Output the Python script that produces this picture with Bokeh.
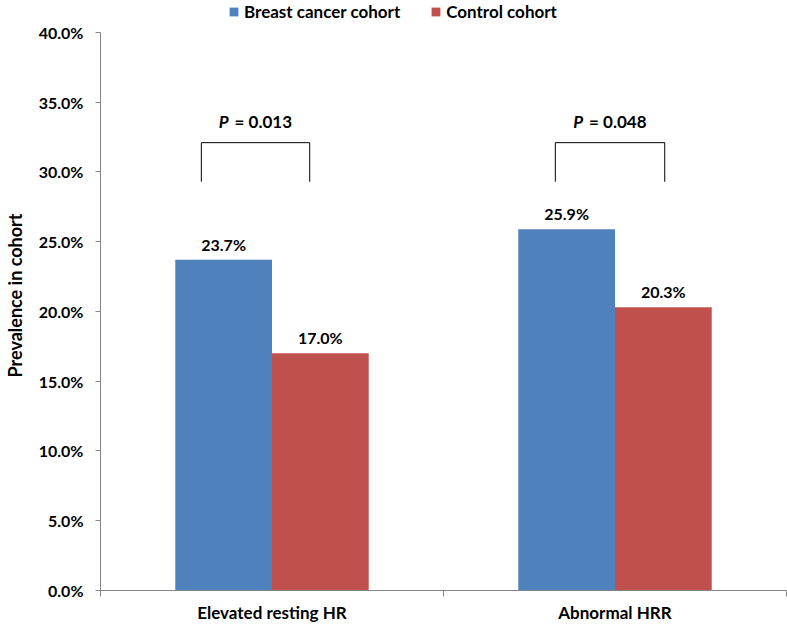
from bokeh.plotting import figure
from bokeh.models import (ColumnDataSource, Range1d, FixedTicker, NumeralTickFormatter,
                          Legend, LegendItem, LabelSet, Label)
from bokeh.core.properties import value
from bokeh.embed import file_html
from bokeh.resources import INLINE

categories = ["Elevated resting HR", "Abnormal HRR"]
series_names = ["Breast cancer cohort", "Control cohort"]
breast = [23.7, 25.9]
control = [17.0, 20.3]
p_values = ["0.013", "0.048"]
y_ticks = [0, 5, 10, 15, 20, 25, 30, 35, 40]

FONT = "Lato"
BLUE = "#4F81BD"
RED = "#C0504D"
AXIS_GRAY = "#868686"

BAR_W = 0.282
centers = [i + 0.5 for i in range(len(categories))]
Y_TOP = y_ticks[-1] / 100 * 591 / 559   # head room above the last tick for the legend

p = figure(width=787, height=625, output_backend="svg", toolbar_location=None,
           x_range=Range1d(0, len(categories)), y_range=Range1d(0, Y_TOP),
           min_border_left=98, min_border_right=1, min_border_top=0, min_border_bottom=34)
p.outline_line_color = None
p.xgrid.grid_line_color = None
p.ygrid.grid_line_color = None
p.background_fill_color = "white"

src_b = ColumnDataSource(dict(x=[c - BAR_W / 2 for c in centers], top=[v / 100 for v in breast],
                              lab=[f"{v:.1f}%" for v in breast]))
src_c = ColumnDataSource(dict(x=[c + BAR_W / 2 for c in centers], top=[v / 100 for v in control],
                              lab=[f"{v:.1f}%" for v in control]))
rb = p.vbar(x="x", top="top", width=BAR_W, source=src_b, fill_color=BLUE, line_color=None)
rc = p.vbar(x="x", top="top", width=BAR_W, source=src_c, fill_color=RED, line_color=None)

for src in (src_b, src_c):
    p.add_layout(LabelSet(x="x", y="top", text="lab", source=src, text_align="center",
                          text_baseline="bottom", y_offset=6, text_font=value(FONT),
                          text_font_style="bold", text_font_size="16px", text_color="black"))

# significance brackets
left_off = [-0.206, -0.174]
right_off = [0.110, 0.145]
br_top, br_bot = 0.321, 0.293
xs, ys = [], []
for i, c in enumerate(centers):
    xl, xr = c + left_off[i], c + right_off[i]
    xs.append([xl, xl, xr, xr])
    ys.append([br_bot, br_top, br_top, br_bot])
p.multi_line(xs=xs, ys=ys, line_color="black", line_width=1)
for i, c in enumerate(centers):
    mid = c + (left_off[i] + right_off[i]) / 2
    p.add_layout(Label(x=mid, y=0.336, text="P", text_align="right", text_baseline="middle",
                       x_offset=-27, text_font=FONT, text_font_style="bold italic",
                       text_font_size="17px", text_color="black"))
    p.add_layout(Label(x=mid, y=0.336, text="= " + p_values[i], text_align="left",
                       text_baseline="middle", x_offset=-21, text_font=FONT,
                       text_font_style="bold", text_font_size="17px", text_color="black"))

# axes
p.xaxis.ticker = FixedTicker(ticks=centers, minor_ticks=[float(i) for i in range(len(categories) + 1)])
p.xaxis.major_label_overrides = {c: categories[i] for i, c in enumerate(centers)}
p.xaxis.major_tick_line_color = None
p.xaxis.minor_tick_line_color = AXIS_GRAY
p.xaxis.minor_tick_out = 6
p.xaxis.minor_tick_in = 0
p.xaxis.axis_line_color = AXIS_GRAY
p.xaxis.major_label_text_font = FONT
p.xaxis.major_label_text_font_style = "bold"
p.xaxis.major_label_text_font_size = "17px"
p.xaxis.major_label_text_color = "black"
p.xaxis.major_label_standoff = 5

p.yaxis.ticker = FixedTicker(ticks=[t / 100 for t in y_ticks], minor_ticks=[])
p.yaxis.bounds = (y_ticks[0] / 100, y_ticks[-1] / 100)
p.yaxis.formatter = NumeralTickFormatter(format="0.0%")
p.yaxis.axis_line_color = AXIS_GRAY
p.yaxis.major_tick_line_color = AXIS_GRAY
p.yaxis.major_tick_out = 5
p.yaxis.major_tick_in = 0
p.yaxis.minor_tick_line_color = None
p.yaxis.major_label_text_font = FONT
p.yaxis.major_label_text_font_style = "bold"
p.yaxis.major_label_text_font_size = "16px"
p.yaxis.major_label_text_color = "black"
p.yaxis.major_label_standoff = 12
p.yaxis.axis_label = "Prevalence in cohort"
p.yaxis.axis_label_text_font = FONT
p.yaxis.axis_label_text_font_style = "bold"
p.yaxis.axis_label_text_font_size = "18px"
p.yaxis.axis_label_text_color = "black"
p.yaxis.axis_label_standoff = 10

legend = Legend(items=[LegendItem(label=series_names[0], renderers=[rb]),
                       LegendItem(label=series_names[1], renderers=[rc])],
                orientation="horizontal", location=(128, 568),
                label_text_font=FONT, label_text_font_style="bold", label_text_font_size="17px",
                label_text_color="black", glyph_width=11, glyph_height=11,
                label_standoff=5, spacing=30, padding=0, margin=0,
                border_line_color=None, background_fill_alpha=0)
p.add_layout(legend, "center")

open("out.html", "w").write(file_html(p, INLINE))
